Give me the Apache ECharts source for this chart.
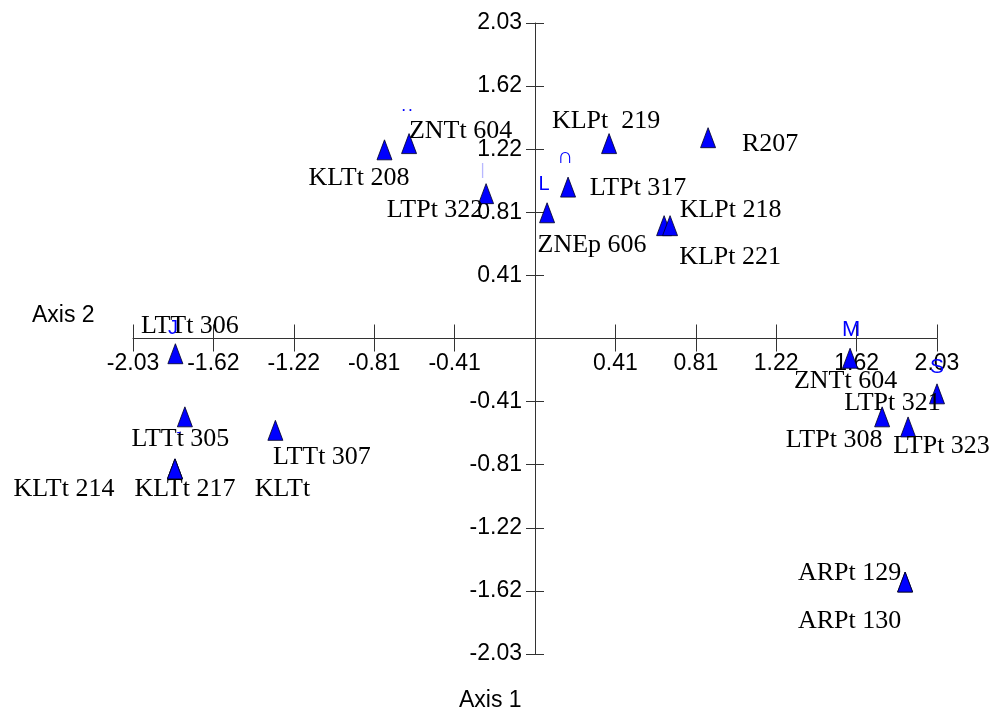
<!DOCTYPE html>
<html>
<head>
<meta charset="utf-8">
<script src="https://cdn.jsdelivr.net/npm/echarts@6/dist/echarts.min.js"></script>
<style>
html,body{margin:0;padding:0;background:#fff;}
#chart{width:995px;height:715px;}
</style>
</head>
<body>
<div id="chart"></div>
<script>
// ---- data ----
const pointNames = ['LTTt 306','KLTt 208','ZNTt 604','LTPt 322','ZNEp 606','LTPt 317','KLPt  219','R207','KLPt 221','KLPt 218','ZNTt 604','LTPt 321','LTPt 308','LTPt 323','LTTt 305','LTTt 307','KLTt 217','KLTt 214','KLTt','ARPt 129','ARPt 130'];
const axis1Values = [-1.816,-0.760,-0.636,-0.247,0.061,0.167,0.374,0.874,0.652,0.682,1.591,2.030,1.753,1.884,-1.768,-1.311,-1.818,-1.818,-1.818,1.869,1.869];
const axis2Values = [-0.098,1.214,1.254,0.932,0.809,0.974,1.254,1.292,0.726,0.726,-0.127,-0.356,-0.504,-0.569,-0.504,-0.591,-0.839,-0.839,-0.839,-1.567,-1.567];
const tagPointIndex = [0,10,11,4,5,2,3,14];
const tagTexts = ['J','M','S','L','∩','. .','|','-'];
const tickValues = [-2.03,-1.624,-1.218,-0.812,-0.406,0.406,0.812,1.218,1.624,2.03];
const tickLabels = ['-2.03','-1.62','-1.22','-0.81','-0.41','0.41','0.81','1.22','1.62','2.03'];
const axisMin = -2.03, axisMax = 2.03;

// ---- styles (label offsets in px from point centre) ----
const labelOffsets = [[14.5,-28],[-25.5,28],[51.5,-12],[-51,17],[45,32],[70,1.5],[-3,-22.5],[62,6.5],[66,32],[60.5,-15],[-4.5,22.5],[-44.5,9],[-48,23],[33.5,19.5],[-4.5,22],[46.5,26.5],[10,20],[-111,20],[107.5,20],[-55.5,-8.5],[-55.5,39]];
const tagOffsets = [[-2.5,-25],[1,-28],[0,-26.5],[-3,-28],[-3,-30],[-2,-36],[-3.5,-23],[-6,16]];
const tagStyles = [{fontSize:20},{fontSize:22},{fontSize:21},{fontSize:20},{fontSize:22},{fontSize:12,fontWeight:'bold'},{color:'#b8b8ff',fontSize:16},{fontSize:14}];

const SANS = '"Liberation Sans", Arial, sans-serif';
const SERIF = '"Liberation Serif", "Times New Roman", serif';
const AXIS_COLOR = '#333';

// grid geometry
const G_LEFT = 133, G_TOP = 23, G_W = 804, G_H = 631;
// offsets that bring each axis onto the other axis' zero
const zeroX = G_LEFT + G_W * (0 - axisMin) / (axisMax - axisMin);
const zeroY = G_TOP + G_H * (axisMax - 0) / (axisMax - axisMin);

function fmtTick(v){
  for (let i=0;i<tickValues.length;i++){ if (Math.abs(tickValues[i]-v)<1e-6) return tickLabels[i]; }
  return '';
}

const pointData = pointNames.map((n,i)=>({
  name:n, value:[axis1Values[i], axis2Values[i]],
  label:{offset:labelOffsets[i]}
}));
const tagData = tagPointIndex.map((p,k)=>({
  name:tagTexts[k], value:[axis1Values[p], axis2Values[p]],
  label:Object.assign({offset:tagOffsets[k]}, tagStyles[k])
}));

function xAxisCfg(pos, main){
  return {
    type:'value', min:axisMin, max:axisMax, position:pos,
    offset: main ? -(G_TOP + G_H - zeroY) : -(zeroY - G_TOP),
    splitLine:{show:false},
    axisLine:{show:main, onZero:false, lineStyle:{color:AXIS_COLOR,width:1}},
    axisTick:{show:true, customValues:tickValues, length: main?13:14, inside:false, lineStyle:{color:AXIS_COLOR,width:1}},
    axisLabel:{show:main, customValues:tickValues, formatter:fmtTick, margin:14, fontSize:23, fontFamily:SANS, color:'#000'}
  };
}
function yAxisCfg(pos, main){
  return {
    type:'value', min:axisMin, max:axisMax, position:pos,
    offset: main ? -(zeroX - G_LEFT) : -(G_LEFT + G_W - zeroX),
    splitLine:{show:false},
    axisLine:{show:main, onZero:false, lineStyle:{color:AXIS_COLOR,width:1}},
    axisTick:{show:true, customValues:tickValues, length:9, inside:false, lineStyle:{color:AXIS_COLOR,width:1}},
    axisLabel:{show:main, customValues:tickValues, formatter:fmtTick, margin:13, fontSize:23, fontFamily:SANS, color:'#000'}
  };
}

const chart = echarts.init(document.getElementById('chart'), null, {renderer:'canvas'});
chart.setOption({
  animation:false,
  backgroundColor:'#fff',
  grid:{left:G_LEFT, top:G_TOP, width:G_W, height:G_H, containLabel:false},
  xAxis:[xAxisCfg('bottom',true), xAxisCfg('top',false)],
  yAxis:[yAxisCfg('left',true), yAxisCfg('right',false)],
  graphic:[
    {type:'text', left:32, top:304, style:{text:'Axis 2', font:'23px '+SANS, fill:'#000'}},
    {type:'text', left:459, top:689, style:{text:'Axis 1', font:'23px '+SANS, fill:'#000'}}
  ],
  series:[
    {
      type:'scatter', xAxisIndex:0, yAxisIndex:0, clip:false,
      symbol:'triangle', symbolSize:[15,20],
      itemStyle:{color:'#0000ff', borderColor:'#000022', borderWidth:0.8, opacity:1},
      label:{show:true, position:'inside', formatter:'{b}', fontFamily:SERIF, fontSize:26, color:'#000'},
      emphasis:{disabled:true},
      data:pointData, z:2
    },
    {
      type:'scatter', xAxisIndex:0, yAxisIndex:0, clip:false,
      symbol:'circle', symbolSize:0.01,
      itemStyle:{color:'#0000ff', opacity:1},
      label:{show:true, position:'inside', formatter:'{b}', fontFamily:SANS, color:'#0000ff', opacity:1},
      emphasis:{disabled:true},
      data:tagData, z:5
    }
  ]
});
</script>
</body>
</html>
